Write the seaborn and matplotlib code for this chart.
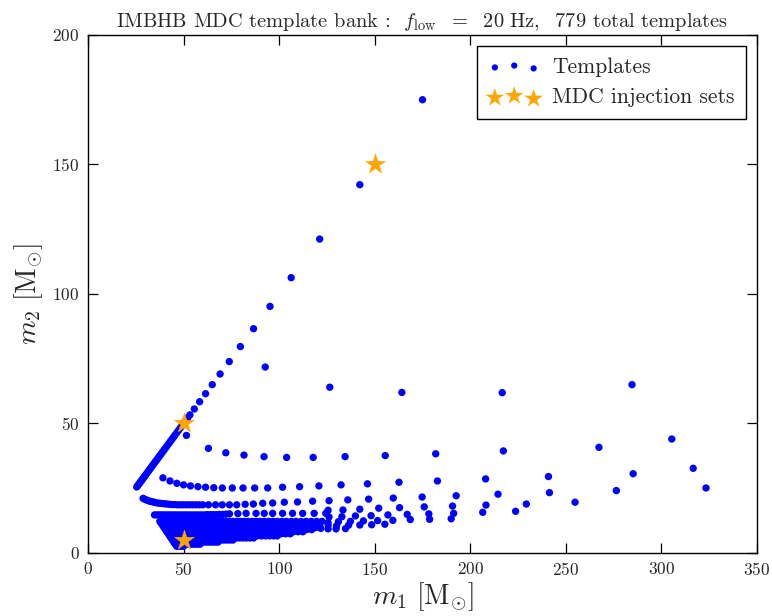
import matplotlib
matplotlib.use("Agg")
import matplotlib.pyplot as plt
import seaborn as sns
import pandas as pd

# ---- template bank points (m1, m2 in solar masses) ----
# equal-mass edge of the bank
diag_mass = [25.5, 26.0, 26.5, 27.0, 27.5, 28.0, 28.5, 29.0, 29.5, 30.0, 30.6, 31.2,
             31.8, 32.4, 33.0, 33.6, 34.2, 34.8, 35.4, 36.0, 36.7, 37.4, 38.1, 38.8,
             39.5, 40.2, 40.9, 41.6, 42.4, 43.2, 44.0, 44.8, 45.6, 46.5, 47.4, 48.3,
             49.2, 50.2, 51.2, 52.2, 53.3, 55.6, 58.4, 61.5, 65.0, 69.1, 73.9, 79.7,
             86.6, 95.2, 106.3, 121.2, 142.2, 175.0]

# isolated high-m2 templates
off_m1 = [51.5, 92.7, 126.5, 164.2, 216.7, 284.6]
off_m2 = [45.4, 71.8, 64.0, 62.0, 61.9, 65.0]

# band near m2 ~ 38
band38_m1 = [63.0, 72.1, 81.6, 92.1, 103.9, 117.8, 134.5, 155.5, 181.9, 217.3, 267.3, 305.4]
band38_m2 = [40.4, 38.7, 37.8, 37.2, 36.9, 36.9, 37.2, 37.6, 38.3, 39.4, 40.8, 44.0]

# band near m2 ~ 25
band25_m1 = [39.2, 42.9, 46.5, 50.0, 53.6, 57.5, 61.5, 65.8, 70.3, 75.5, 81.1, 87.2,
             94.0, 101.8, 110.7, 120.8, 132.4, 146.2, 162.7, 182.8, 208.0, 240.9,
             285.2, 316.6]
band25_m2 = [29.0, 27.8, 26.9, 26.3, 25.9, 25.6, 25.4, 25.2, 25.1, 25.1, 25.1, 25.1,
             25.1, 25.4, 25.6, 25.9, 26.3, 26.7, 27.3, 27.8, 28.6, 29.5, 30.6, 32.7]

# band near m2 ~ 19
band19_m1 = [28.8, 29.8, 30.8, 31.8, 32.9, 34.0, 35.1, 36.3, 37.5, 38.7, 40.0, 41.3,
             42.6, 44.0, 45.4, 46.8, 48.3, 49.8, 51.4, 53.0, 54.7, 56.4, 58.2, 60.0,
             63.0, 66.7, 70.2, 74.0, 77.8, 82.2, 86.5, 91.4, 96.6, 102.7, 109.6, 117.5,
             126.1, 135.9, 146.8, 159.7, 174.8, 192.6, 214.5, 241.4, 276.4, 323.3]
band19_m2 = [21.1, 20.7, 20.4, 20.1, 19.9, 19.7, 19.5, 19.3, 19.2, 19.1, 19.0, 18.9,
             18.8, 18.7, 18.7, 18.6, 18.6, 18.6, 18.6, 18.6, 18.6, 18.6, 18.6, 18.6,
             18.6, 18.6, 18.6, 18.6, 18.6, 18.8, 18.9, 19.2, 19.3, 19.6, 19.7, 20.0,
             20.2, 20.5, 20.8, 21.2, 21.6, 22.1, 22.7, 23.3, 24.1, 25.1]

# band near m2 ~ 15
band15_m1 = [34.8, 36.0, 37.2, 38.4, 39.6, 40.8, 42.0, 43.2, 44.4, 45.6, 46.9, 48.2,
             49.5, 50.8, 52.1, 53.5, 54.9, 56.3, 57.7, 59.2, 60.7, 62.2, 63.8, 65.4,
             67.0, 68.7, 70.4, 72.2, 74.0, 78.4, 82.7, 87.9, 92.2, 96.6, 101.8, 107.0,
             112.3, 118.3, 124.4]
band15_m2 = [14.7, 14.7, 14.7, 14.7, 14.7, 14.7, 14.7, 14.7, 14.7, 14.7, 14.7, 14.7,
             14.7, 14.7, 14.7, 14.7, 14.7, 14.7, 14.7, 14.7, 14.7, 14.8, 14.8, 14.8,
             14.8, 14.9, 14.9, 15.0, 15.1, 15.2, 15.3, 15.3, 15.3, 15.3, 15.3, 15.3,
             15.3, 15.3, 15.3]

# sparse streaks at large m1, low m2
tail_m1 = [125.6, 133.4, 142.2, 152.1, 163.0, 175.9, 190.7, 208.2, 229.3, 254.8,
           126.1, 132.8, 139.9, 148.1, 156.9, 167.0, 178.3, 191.3, 206.5, 223.7,
           131.0, 137.3, 144.1, 151.5, 159.5, 168.6, 178.7, 190.0,
           125.6, 130.0, 136.3, 142.2, 148.4, 155.3, 125.6,
           121.8, 125.6, 129.8, 134.7]
tail_m2 = [16.5, 16.6, 16.9, 17.3, 17.5, 17.8, 18.1, 18.5, 18.9, 19.6,
           13.9, 14.0, 14.3, 14.4, 14.7, 14.9, 15.1, 15.3, 15.7, 16.1,
           12.1, 12.2, 12.4, 12.5, 12.6, 12.9, 13.0, 13.2,
           11.7, 10.5, 10.7, 10.8, 10.9, 11.1, 10.7,
           9.5, 9.3, 9.3, 9.4]

# densely packed low-m2 region: one m1 list per m2 level
fill_levels = [2.6, 3.4, 4.2, 5.0, 5.8, 6.6, 7.4, 8.2, 9.0, 9.8, 10.6, 11.4, 12.2]
fill_rows = [
    [46.4, 47.6, 48.8, 50.0],
    [45.6, 46.9, 48.2, 49.5, 50.8, 52.1, 53.4, 54.7, 56.0, 57.3, 58.6],
    [44.9, 46.2, 47.5, 48.8, 50.1, 51.4, 52.7, 54.0, 55.4, 56.8, 58.2, 59.6, 61.0,
     62.4, 63.8, 65.2, 66.6, 68.0],
    [44.2, 45.5, 46.8, 48.1, 49.4, 50.7, 52.0, 53.3, 54.7, 56.1, 57.5, 58.9, 60.3,
     61.8, 63.3, 64.8, 66.3, 67.8, 69.4, 71.0, 72.6, 74.2, 75.8],
    [43.4, 44.7, 46.0, 47.3, 48.6, 49.9, 51.2, 52.6, 54.0, 55.4, 56.8, 58.2, 59.7,
     61.2, 62.7, 64.2, 65.8, 67.4, 69.0, 70.6, 72.3, 74.0, 75.7, 77.4, 79.2, 81.0,
     82.8, 84.7, 86.6],
    [42.7, 44.0, 45.3, 46.6, 47.9, 49.2, 50.5, 51.9, 53.3, 54.7, 56.1, 57.6, 59.1,
     60.6, 62.1, 63.7, 65.3, 66.9, 68.5, 70.2, 71.9, 73.6, 75.4, 77.2, 79.0, 80.9,
     82.8, 84.7, 86.7, 88.7, 90.8, 92.9, 95.0, 97.2, 99.0],
    [42.0, 43.3, 44.6, 45.9, 47.2, 48.5, 49.9, 51.3, 52.7, 54.1, 55.5, 57.0, 58.5,
     60.0, 61.5, 63.1, 64.7, 66.3, 67.9, 69.6, 71.3, 73.0, 74.8, 76.6, 78.4, 80.3,
     82.2, 84.1, 86.1, 88.1, 90.2, 92.3, 94.4, 96.6, 98.8, 101.1, 103.4, 105.8],
    [41.2, 42.5, 43.8, 45.1, 46.4, 47.7, 49.1, 50.5, 51.9, 53.3, 54.7, 56.2, 57.7,
     59.2, 60.7, 62.3, 63.9, 65.5, 67.1, 68.8, 70.5, 72.2, 74.0, 75.8, 77.6, 79.5,
     81.4, 83.3, 85.3, 87.3, 89.4, 91.5, 93.6, 95.8, 98.0, 100.3, 102.6, 105.0,
     107.4, 109.9, 112.4],
    [40.5, 41.8, 43.1, 44.4, 45.7, 47.0, 48.4, 49.8, 51.2, 52.6, 54.0, 55.5, 57.0,
     58.5, 60.0, 61.6, 63.2, 64.8, 66.4, 68.1, 69.8, 71.5, 73.3, 75.1, 76.9, 78.8,
     80.7, 82.6, 84.6, 86.6, 88.7, 90.8, 92.9, 95.1, 97.3, 99.6, 101.9, 104.3,
     106.7, 109.2, 111.7, 114.3, 117.0],
    [39.8, 41.1, 42.4, 43.7, 45.0, 46.3, 47.7, 49.1, 50.5, 51.9, 53.3, 54.8, 56.3,
     57.8, 59.3, 60.9, 62.5, 64.1, 65.7, 67.4, 69.1, 70.8, 72.6, 74.4, 76.2, 78.1,
     80.0, 81.9, 83.9, 85.9, 88.0, 90.1, 92.2, 94.4, 96.6, 98.9, 101.2, 103.6,
     106.0, 108.5, 111.0, 113.6, 116.3, 119.0],
    [39.1, 40.4, 41.7, 43.0, 44.3, 45.6, 47.0, 48.4, 49.8, 51.2, 52.6, 54.1, 55.6,
     57.1, 58.6, 60.2, 61.8, 63.4, 65.0, 66.7, 68.4, 70.1, 71.9, 73.7, 75.5, 77.4,
     79.3, 81.2, 83.2, 85.2, 87.3, 89.4, 91.5, 93.7, 95.9, 98.2, 100.5, 102.9,
     105.3, 107.8, 110.3, 112.9, 115.6, 118.3, 121.0],
    [38.3, 39.6, 40.9, 42.2, 43.5, 44.8, 46.2, 47.6, 49.0, 50.4, 51.8, 53.3, 54.8,
     56.3, 57.8, 59.4, 61.0, 62.6, 64.2, 65.9, 67.6, 69.3, 71.1, 72.9, 74.7, 76.6,
     78.5, 80.4, 82.4, 84.4, 86.5, 88.6, 90.7, 92.9, 95.1, 97.4, 99.7, 102.1,
     104.5, 107.0, 109.5, 112.1, 114.8, 117.5, 120.3],
    [37.6, 38.9, 40.2, 41.5, 42.8, 44.1, 45.5, 46.9, 48.3, 49.7, 51.1, 52.6, 54.1,
     55.6, 57.1, 58.7, 60.3, 61.9, 63.5, 65.2, 66.9, 68.6, 70.4, 72.2, 74.0, 75.9,
     77.8, 79.7, 81.7, 83.7, 85.8, 87.9, 90.0, 92.2, 94.4, 96.7, 99.0, 101.4,
     103.8, 106.3, 108.8, 111.4, 114.1, 116.8, 119.6, 122.4],
]

# MDC injection sets
inj_m1 = [50.0, 50.0, 150.0]
inj_m2 = [5.0, 50.0, 150.0]

# ---- assemble the template table ----
m1_all = list(diag_mass) + off_m1 + band38_m1 + band25_m1 + band19_m1 + band15_m1 + tail_m1
m2_all = list(diag_mass) + off_m2 + band38_m2 + band25_m2 + band19_m2 + band15_m2 + tail_m2
for level, row in zip(fill_levels, fill_rows):
    m1_all += row
    m2_all += [level] * len(row)
templates = pd.DataFrame({"m1": m1_all, "m2": m2_all})
injections = pd.DataFrame({"m1": inj_m1, "m2": inj_m2})

# ---- style ----
sns.set_style("ticks", {"xtick.direction": "in", "ytick.direction": "in"})
plt.rcParams["font.family"] = ["serif"]
plt.rcParams["font.serif"] = ["cmr10", "DejaVu Serif"]
plt.rcParams["mathtext.fontset"] = "cm"
plt.rcParams["axes.formatter.use_mathtext"] = True
plt.rcParams["axes.unicode_minus"] = False

fig = plt.figure(figsize=(7.72, 6.16), dpi=100)
ax = fig.add_axes([0.114, 0.1023, 0.8666, 0.8409])

sns.scatterplot(data=templates, x="m1", y="m2", ax=ax, color="#0000ff", s=28,
                linewidth=0, edgecolor="none", label="Templates", zorder=2)
sns.scatterplot(data=injections, x="m1", y="m2", ax=ax, color="#ffa500", marker="*",
                s=230, linewidth=0.3, edgecolor="#ffa500", label="MDC injection sets",
                zorder=3)

ax.set_xlim(0, 350)
ax.set_ylim(0, 200)
ax.set_xticks([0, 50, 100, 150, 200, 250, 300, 350])
ax.set_yticks([0, 50, 100, 150, 200])
ax.tick_params(axis="both", which="major", direction="in", top=True, right=True,
               length=7, width=0.9, labelsize=12.5, color="black", pad=6)
for sp in ax.spines.values():
    sp.set_color("black")
    sp.set_linewidth(1.0)
    sp.set_visible(True)

ax.set_xlabel(r"$m_1\ [\mathrm{M}_{\odot}]$", fontsize=20, labelpad=1)
ax.set_ylabel(r"$m_2\ [\mathrm{M}_{\odot}]$", fontsize=20, labelpad=5)
ax.set_title(r"IMBHB MDC template bank :  $f_{\rm low}\ \ =\ \ 20\ \mathrm{Hz},\ \ 779$ total templates",
             fontsize=14.7, pad=6)

leg = ax.legend(loc="upper right", scatterpoints=3, fontsize=15.5, frameon=True,
                fancybox=False, framealpha=1, edgecolor="black",
                borderaxespad=0.5, handletextpad=0.55, handlelength=2.4,
                borderpad=0.55, labelspacing=0.5, markerscale=0.85)
leg.get_frame().set_linewidth(1.0)

fig.savefig("out.png", dpi=100)
